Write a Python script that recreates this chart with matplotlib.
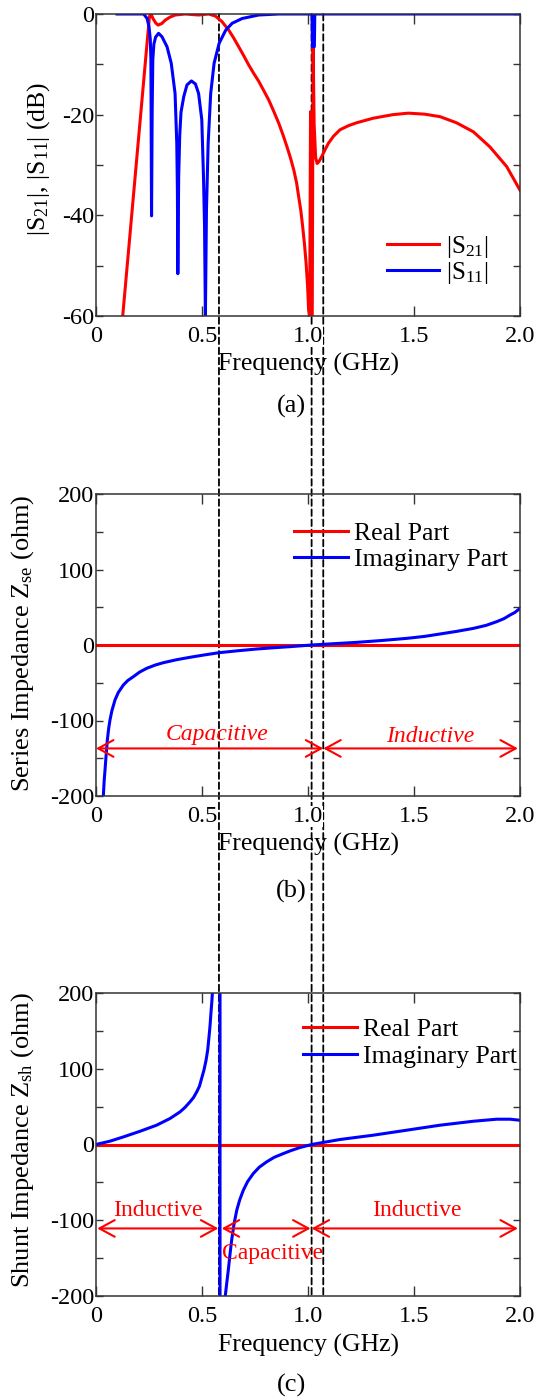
import matplotlib
matplotlib.use('Agg')
import matplotlib.pyplot as plt
from matplotlib.patches import ConnectionPatch
from matplotlib.ticker import MultipleLocator, FixedLocator

plt.rcParams['font.family'] = ['Liberation Serif', 'DejaVu Serif']
plt.rcParams['mathtext.fontset'] = 'custom'
plt.rcParams['mathtext.rm'] = 'Liberation Serif'
plt.rcParams['mathtext.it'] = 'Liberation Serif:italic'
plt.rcParams['mathtext.bf'] = 'Liberation Serif:bold'
plt.rcParams['axes.unicode_minus'] = False

# ---------------- data ----------------
# (a) S-parameters, frequency in GHz, magnitude in dB
s21_f = [0.126, 0.252, 0.259, 0.270, 0.282, 0.293, 0.310, 0.327, 0.350, 0.374,
         0.421, 0.484, 0.531, 0.563, 0.594, 0.626, 0.650, 0.673, 0.697, 0.720,
         0.744, 0.768, 0.791, 0.815, 0.838, 0.862, 0.882, 0.901, 0.918, 0.933,
         0.946, 0.956, 0.966, 0.975, 0.984, 0.991, 0.998, 1.003, 1.008, 1.012,
         1.016, 1.020, 1.024, 1.029, 1.036, 1.043, 1.052, 1.065, 1.080, 1.096,
         1.120, 1.151, 1.190, 1.230, 1.308, 1.400, 1.473, 1.550, 1.623, 1.700,
         1.780, 1.858, 1.937, 2.0]
s21_db = [-60, -0.5, 0, -1.0, -1.8, -2.2, -1.9, -1.2, -0.6, -0.2,
          0, -0.2, 0, -0.4, -1.5, -3.2, -4.8, -6.5, -8.3, -10.1,
          -11.8, -13.4, -15.2, -17.1, -19.3, -21.7, -24.0, -26.4, -28.7, -31.0,
          -33.5, -36.3, -39.0, -42.3, -46.0, -49.5, -54.0, -58.8, -60, -19.4,
          -60, -60, -6.5, -22.0, -28.5, -29.7, -29.3, -28.3, -27.0, -25.7,
          -24.3, -23.0, -22.2, -21.6, -20.7, -20.0, -19.7, -19.9, -20.4, -21.6,
          -23.4, -26.4, -30.3, -35.0]

s11_f = [0.099, 0.225, 0.241, 0.250, 0.256, 0.259, 0.262, 0.265, 0.268, 0.273,
         0.281, 0.295, 0.311, 0.335, 0.355, 0.373, 0.381, 0.384, 0.386, 0.390,
         0.395, 0.401, 0.414, 0.429, 0.450, 0.469, 0.484, 0.499, 0.507, 0.512,
         0.516, 0.521, 0.529, 0.541, 0.557, 0.581, 0.612, 0.642, 0.689, 0.767,
         0.862, 1.019, 1.021, 1.030, 1.032, 2.0]
s11_db = [0, 0, -0.9, -2.5, -5.0, -9.0, -40.1, -19.0, -9.0, -6.0,
          -4.6, -3.84, -4.5, -6.5, -9.8, -15.8, -25.7, -35.0, -51.6, -32.3,
          -24.0, -19.5, -16.4, -14.1, -13.3, -13.9, -15.8, -21.0, -32.3, -42.0,
          -60, -39.0, -25.7, -15.8, -9.8, -5.8, -3.2, -1.85, -0.9, -0.2,
          0, 0, -6.5, -6.5, 0, 0]

# (b) series impedance (ohm)
zse_f = [0.0346, 0.0385, 0.0425, 0.048, 0.0535, 0.060, 0.066, 0.075, 0.0896, 0.105,
         0.129, 0.150, 0.176, 0.205, 0.239, 0.280, 0.318, 0.380, 0.443, 0.510,
         0.580, 0.670, 0.758, 0.840, 0.915, 1.017, 1.120, 1.230, 1.350, 1.466,
         1.550, 1.623, 1.700, 1.780, 1.840, 1.890, 1.925, 1.953, 1.975, 1.995]
zse_im = [-200, -180, -165.6, -145, -125.8, -110, -99.3, -87, -72.8, -63,
          -53, -47, -42, -36, -30.9, -26.5, -23.4, -19.5, -16.3, -13.2,
          -10.2, -7.6, -5.3, -3.6, -2.2, 0, 1.7, 3.5, 6.0, 8.8,
          11.4, 14.6, 18.0, 22.0, 26.0, 30.9, 35.0, 39.7, 43.0, 47.3]
zse_re_f = [0.0, 2.0]
zse_re = [0, 0]

# (c) shunt impedance (ohm)
zsh_f = [0.0, 0.066, 0.129, 0.208, 0.286, 0.349, 0.396, 0.420, 0.443, 0.460,
         0.475, 0.488, 0.498, 0.509, 0.519, 0.527, 0.533, 0.538, 0.542, 0.546,
         0.549, 0.585, 0.585, 0.613, 0.618, 0.624, 0.632, 0.640, 0.651, 0.664,
         0.678, 0.695, 0.715, 0.742, 0.770, 0.805, 0.840, 0.884, 0.920, 0.962,
         1.017, 1.151, 1.308, 1.466, 1.623, 1.780, 1.890, 1.953, 2.0]
zsh_im = [0, 4.4, 10.0, 17.5, 25.5, 34.3, 43.0, 49.0, 56.2, 62.0,
          69.4, 77.0, 87.0, 98.0, 111.0, 125.0, 142.0, 157.0, 172.8, 187.0,
          200.0, 260.0, -260.0, -192.0, -180.0, -166.0, -145.0, -126.0, -105.0, -86.7,
          -73.0, -60.3, -49.0, -38.3, -30.0, -22.9, -17.0, -11.9, -8.0, -4.0,
          0, 6.6, 12.3, 18.9, 25.5, 30.7, 33.4, 33.4, 32.0]
zsh_re_f = [0.0, 2.0]
zsh_re = [0, 0]

# frequencies of the dashed guide lines (GHz)
guide_f = [0.58, 1.017, 1.072]

# impedance-region arrows: (label, f_start, f_end)
zse_regions = [("Capacitive", 0.0, 1.072), ("Inductive", 1.072, 1.99)]
zsh_regions = [("Inductive", 0.006, 0.577), ("Capacitive", 0.593, 1.012),
               ("Inductive", 1.017, 1.99)]

x_ticks = [0, 0.5, 1.0, 1.5, 2.0]
x_ticklabels = ['0', '0.5', '1.0', '1.5', '2.0']

RED = '#ff0000'
BLUE = '#0000ff'
W, H = 553, 1400

fig = plt.figure(figsize=(W / 100, H / 100), dpi=100)


def px_axes(x0, y0, x1, y1):
    return fig.add_axes([x0 / W, 1 - y1 / H, (x1 - x0) / W, (y1 - y0) / H])


ax1 = px_axes(96, 14, 520, 316)
ax2 = px_axes(96, 494, 520, 796)
ax3 = px_axes(96, 993, 520, 1296)

for ax in (ax1, ax2, ax3):
    ax.set_facecolor('none')
    ax.set_xlim(0, 2.0)
    ax.xaxis.set_major_locator(FixedLocator(x_ticks))
    ax.set_xticklabels(x_ticklabels)
    for sp in ax.spines.values():
        sp.set_color('#333333')
        sp.set_linewidth(1.1)
    ax.tick_params(axis='both', which='both', direction='in', top=True, right=True,
                   color='#333333', width=1.0, labelsize=17.5)
    ax.tick_params(axis='x', which='major', length=7.5, pad=7.3)
    ax.tick_params(axis='y', which='both', length=5, pad=1.5)
    ax.set_xlabel('Frequency (GHz)', fontsize=18.5, va='center')
    ax.xaxis.set_label_coords(0.5, -0.162)

# ---- (a)
ax1.plot(s21_f, s21_db, color=RED, lw=2.2, label=r'|S$_{\mathrm{21}}$|')
ax1.plot(s11_f, s11_db, color=BLUE, lw=2.2, label=r'|S$_{\mathrm{11}}$|')
ax1.set_ylim(-60, 0)
ax1.yaxis.set_major_locator(MultipleLocator(20))
ax1.yaxis.set_minor_locator(MultipleLocator(10))
ax1.set_ylabel(r'|S$_{\mathrm{21}}$|, |S$_{\mathrm{11}}$| (dB)', fontsize=18.5, va='center')
ax1.yaxis.set_label_coords(-0.135, 0.52)
ax1.legend(loc='center left', bbox_to_anchor=(0.686, 0.186), frameon=False,
           fontsize=18, handlelength=2.1, handletextpad=0.25, labelspacing=0.0,
           borderpad=0, borderaxespad=0)
ax1.text(0.46, -0.30, '(a)', transform=ax1.transAxes, ha='center', va='center', fontsize=19)

# ---- (b)
ax2.plot(zse_re_f, zse_re, color=RED, lw=2.2, label='Real Part')
ax2.plot(zse_f, zse_im, color=BLUE, lw=2.2, label='Imaginary Part')
ax2.set_ylim(-200, 200)
ax2.yaxis.set_major_locator(MultipleLocator(100))
ax2.yaxis.set_minor_locator(MultipleLocator(50))
ax2.set_ylabel(r'Series Impedance Z$_{\mathrm{se}}$ (ohm)', fontsize=19, va='center')
ax2.yaxis.set_label_coords(-0.172, 0.505)
ax2.legend(loc='center left', bbox_to_anchor=(0.467, 0.826), frameon=False,
           fontsize=18.5, handlelength=2.1, handletextpad=0.25, labelspacing=0.15,
           borderpad=0, borderaxespad=0)
ax2.text(0.46, -0.317, '(b)', transform=ax2.transAxes, ha='center', va='center', fontsize=19)

arrow_kw = dict(arrowstyle='<->,head_length=1.1,head_width=0.6', color=RED, lw=1.5,
                mutation_scale=10, shrinkA=0, shrinkB=0)
zse_text_pos = [(0.569, -119), (1.575, -121)]
for (lab, f0, f1), (tx, ty) in zip(zse_regions, zse_text_pos):
    ax2.annotate('', xy=(f1, -137), xytext=(f0, -137), arrowprops=arrow_kw)
    ax2.text(tx, ty, lab, color=RED, fontsize=17, style='italic', ha='center', va='center')

# ---- (c)
ax3.plot(zsh_re_f, zsh_re, color=RED, lw=2.2, label='Real Part')
ax3.plot(zsh_f, zsh_im, color=BLUE, lw=2.2, label='Imaginary Part')
ax3.set_ylim(-200, 200)
ax3.yaxis.set_major_locator(MultipleLocator(100))
ax3.yaxis.set_minor_locator(MultipleLocator(50))
ax3.set_ylabel(r'Shunt Impedance Z$_{\mathrm{sh}}$ (ohm)', fontsize=19, va='center')
ax3.yaxis.set_label_coords(-0.172, 0.515)
ax3.legend(loc='center left', bbox_to_anchor=(0.488, 0.834), frameon=False,
           fontsize=18.5, handlelength=2.1, handletextpad=0.25, labelspacing=0.15,
           borderpad=0, borderaxespad=0)
ax3.text(0.46, -0.294, '(c)', transform=ax3.transAxes, ha='center', va='center', fontsize=19)

zsh_text_pos = [(0.294, -86.7), (0.833, -143.8), (1.512, -86.7)]
for (lab, f0, f1), (tx, ty) in zip(zsh_regions, zsh_text_pos):
    ax3.annotate('', xy=(f1, -110.8), xytext=(f0, -110.8), arrowprops=arrow_kw)
    ax3.text(tx, ty, lab, color=RED, fontsize=17, ha='center', va='center')

# ---- dashed guide lines spanning all three panels
for fg in guide_f:
    con = ConnectionPatch(xyA=(fg, 0), coordsA=ax1.transData,
                          xyB=(fg, -200), coordsB=ax3.transData,
                          color='black', lw=1.3, linestyle=(0, (3.6, 2.0)), zorder=-1)
    fig.add_artist(con)

fig.canvas.draw()
for ax in (ax1, ax2, ax3):
    for lab in ax.get_xticklabels():
        lab.set_bbox(dict(facecolor='white', edgecolor='none', pad=0))

fig.savefig('out.png', dpi=100, facecolor='white')
